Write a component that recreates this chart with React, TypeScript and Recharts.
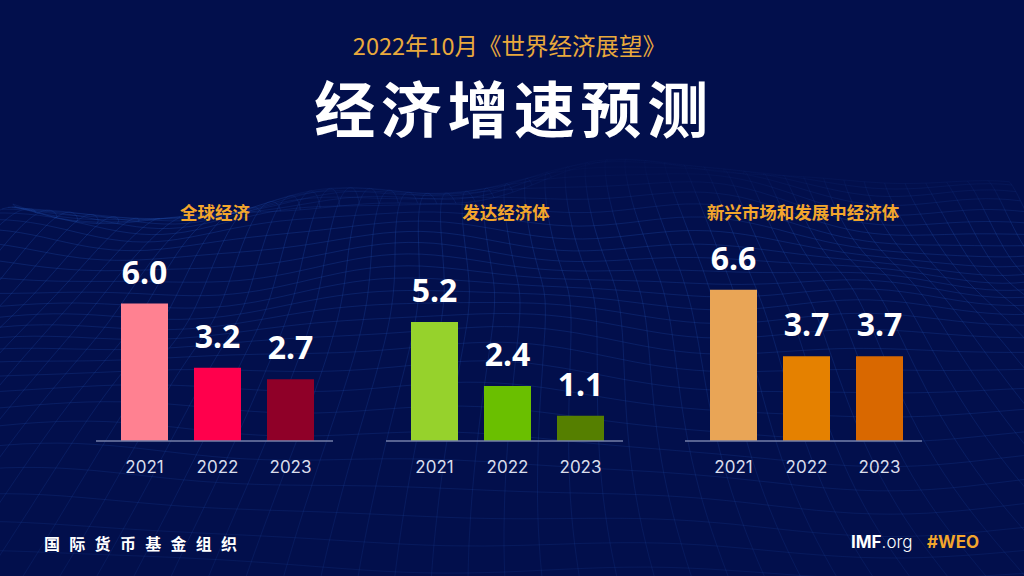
import { Bar, BarChart, Cell, LabelList, XAxis, YAxis } from "recharts";

const years = ["2021", "2022", "2023"];

const worldValues = [6.0, 3.2, 2.7];
const advancedValues = [5.2, 2.4, 1.1];
const emergingValues = [6.6, 3.7, 3.7];

const worldColors = ["#ff8191", "#ff004c", "#8f0028"];
const advancedColors = ["#96d22c", "#6abf00", "#557f00"];
const emergingColors = ["#e9a556", "#e58100", "#d96800"];

const CJK = '"Noto Sans CJK SC", sans-serif';
const LATIN = 'Inter, "Noto Sans", sans-serif';
const GOLD = "#f3a62c";

const PLOT_W = 237;
const PLOT_H = 229;
const BASELINE = 441;

function Panel({ title, values, colors, left, titleCenter }: { title: string; values: number[]; colors: string[]; left: number; titleCenter: number }) {
  const rows = years.map((year, i) => ({ year, value: values[i] }));
  return (
    <>
      <div
        style={{
          position: "absolute",
          left: titleCenter - 150,
          width: 300,
          top: 199,
          textAlign: "center",
          color: GOLD,
          font: `700 17.5px ${CJK}`,
          lineHeight: "26px",
        }}
      >
        {title}
      </div>
      <div style={{ position: "absolute", left, top: BASELINE - PLOT_H }}>
        <BarChart width={PLOT_W} height={PLOT_H + 44} data={rows} margin={{ top: 0, right: 0, bottom: 0, left: 0 }}>
          <YAxis hide domain={[0, 10]} />
          <XAxis
            dataKey="year"
            height={44}
            padding={{ left: 12, right: 6 }}
            tickLine={false}
            tickMargin={14}
            axisLine={{ stroke: "#747fa8", strokeWidth: 1.5 }}
            tick={{ fill: "#d9ddec", fontSize: 17, fontFamily: LATIN }}
            interval={0}
          />
          <Bar dataKey="value" barSize={47} isAnimationActive={false}>
            {rows.map((_, i) => (
              <Cell key={i} fill={colors[i]} />
            ))}
            <LabelList
              dataKey="value"
              position="top"
              offset={20}
              formatter={(v: number) => v.toFixed(1)}
              style={{ fill: "#ffffff", fontSize: 32, fontWeight: 700, fontFamily: '"Noto Sans", sans-serif' }}
            />
          </Bar>
        </BarChart>
      </div>
    </>
  );
}

// decorative wave mesh behind the panels
function ground(u: number, v: number) {
  return (
    Math.sin(u * 7.1 + v * 3.3) * 14 +
    Math.sin(u * 17.7 - v * 6.1) * 7 +
    Math.cos(u * 3.3 + v * 11.9) * 10 +
    Math.sin(u * 29.3 + v * 13.7) * 3
  );
}

function meshPoint(u: number, v: number) {
  const depth = v * v;
  const spread = 0.75 + depth * 0.7;
  const x = 512 + (u - 0.5) * 1024 * spread * 1.3 + Math.sin(v * 9 + u * 6) * 8;
  const y = 192 + depth * 390 + v * 30 + ground(u, v) * (1.2 - v * 0.5);
  return `${x.toFixed(1)},${y.toFixed(1)}`;
}

function Mesh() {
  const paths: string[] = [];
  for (let r = 0; r <= 30; r++) {
    const pts: string[] = [];
    for (let c = 0; c <= 90; c++) pts.push(meshPoint(c / 90, r / 30));
    paths.push("M" + pts.join("L"));
  }
  for (let c = 0; c <= 50; c++) {
    const pts: string[] = [];
    for (let r = 0; r <= 50; r++) pts.push(meshPoint(c / 50, r / 50));
    paths.push("M" + pts.join("L"));
  }
  return (
    <svg width={1024} height={576} style={{ position: "absolute", left: 0, top: 0 }}>
      <defs>
        <linearGradient id="meshFade" gradientUnits="userSpaceOnUse" x1="0" y1="170" x2="0" y2="576">
          <stop offset="0" stopColor="#1d4aa8" stopOpacity={0.05} />
          <stop offset="0.15" stopColor="#1d4aa8" stopOpacity={0.4} />
          <stop offset="0.5" stopColor="#1d4aa8" stopOpacity={0.32} />
          <stop offset="1" stopColor="#1d4aa8" stopOpacity={0.2} />
        </linearGradient>
      </defs>
      {paths.map((d, i) => (
        <path key={i} d={d} fill="none" stroke="url(#meshFade)" strokeWidth={0.8} />
      ))}
    </svg>
  );
}

export default function App() {
  return (
    <div style={{ position: "absolute", left: 0, top: 0, width: 1024, height: 576, background: "#020f4c", overflow: "hidden" }}>
      <Mesh />
      <div style={{ position: "absolute", left: 0, width: 1019, top: 29, textAlign: "center", color: "#e9a93c", font: `400 23.5px ${CJK}`, lineHeight: "32px" }}>
        2022年10月《世界经济展望》
      </div>
      <div style={{ position: "absolute", left: 0, width: 1028, top: 65, textAlign: "center", color: "#ffffff", font: `700 61px ${CJK}`, letterSpacing: 5.6, lineHeight: "84px" }}>
        经济增速预测
      </div>
      <Panel title="全球经济" values={worldValues} colors={worldColors} left={96} titleCenter={215} />
      <Panel title="发达经济体" values={advancedValues} colors={advancedColors} left={386} titleCenter={506} />
      <Panel title="新兴市场和发展中经济体" values={emergingValues} colors={emergingColors} left={685} titleCenter={803} />
      <div style={{ position: "absolute", left: 44, top: 532, color: "#ffffff", font: `700 16px ${CJK}`, letterSpacing: 9.3, lineHeight: "22px", whiteSpace: "nowrap" }}>
        国际货币基金组织
      </div>
      <div style={{ position: "absolute", left: 851, top: 531, color: "#ffffff", font: `700 17px ${LATIN}`, lineHeight: "22px", whiteSpace: "nowrap" }}>
        IMF<span style={{ fontWeight: 300 }}>.org</span>
      </div>
      <div style={{ position: "absolute", left: 927, top: 531, color: GOLD, font: `700 17px ${LATIN}`, lineHeight: "22px", whiteSpace: "nowrap" }}>
        #WEO
      </div>
    </div>
  );
}
